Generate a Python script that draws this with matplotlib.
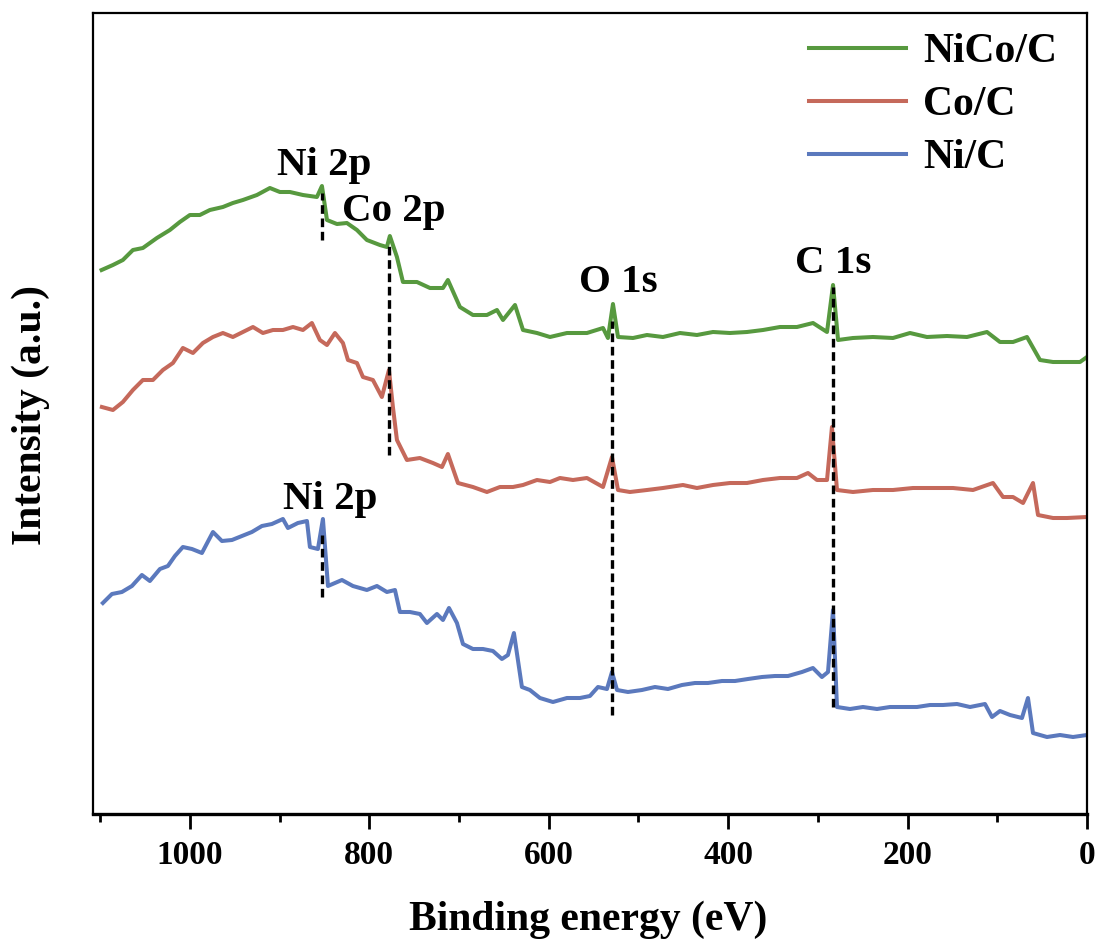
import matplotlib
matplotlib.use("Agg")
import matplotlib.pyplot as plt
from matplotlib.lines import Line2D

plt.rcParams['font.family'] = ['Liberation Serif', 'DejaVu Serif']
plt.rcParams['font.weight'] = 'bold'

# ---- XPS survey spectra (binding energy in eV, intensity in a.u., offset stacked) ----
nico_be = [1098.4, 1085.8, 1074.7, 1063.5, 1052.4, 1036.8, 1022.3, 1011.2, 1000.0, 988.9,
           977.7, 963.2, 952.1, 940.9, 925.3, 910.8, 899.7, 888.5, 874.0, 858.4,
           852.8, 847.2, 836.1, 825.0, 813.8, 802.7, 788.2, 780.4, 777.1, 769.2,
           762.5, 746.9, 732.4, 717.9, 712.4, 699.0, 684.5, 668.9, 657.7, 651.0,
           637.6, 628.7, 613.1, 598.6, 579.7, 557.4, 539.5, 534.0, 528.4, 522.8,
           506.1, 490.5, 472.7, 453.7, 434.8, 416.9, 398.0, 379.0, 361.2, 342.2,
           323.3, 305.4, 289.8, 283.1, 277.5, 260.9, 238.6, 216.3, 197.3, 178.4,
           156.1, 133.8, 111.5, 97.0, 82.5, 66.9, 52.4, 37.9, 22.3, 7.8, 0.0]
nico_int = [544, 549, 554, 564, 566, 576, 584, 592, 599, 599,
            604, 607, 611, 614, 619, 626, 622, 622, 619, 617,
            628, 594, 590, 591, 584, 574, 569, 567, 578, 557,
            532, 532, 526, 526, 534, 507, 499, 499, 504, 494,
            509, 484, 481, 477, 481, 481, 486, 476, 510, 477,
            476, 479, 477, 481, 479, 482, 481, 482, 484, 487,
            487, 491, 482, 529, 474, 476, 477, 476, 481, 477,
            478, 477, 482, 472, 472, 477, 454, 452, 452, 452, 457]

co_be = [1098.1, 1085.8, 1074.7, 1063.5, 1052.4, 1041.2, 1030.1, 1018.9, 1007.8, 996.6,
         985.5, 974.3, 963.2, 952.1, 940.9, 929.7, 918.6, 907.4, 896.3, 885.1,
         874.0, 864.0, 855.1, 847.2, 838.3, 829.4, 823.8, 813.8, 807.1, 796.0,
         786.0, 778.1, 773.7, 769.2, 758.1, 743.6, 729.1, 719.0, 712.4, 701.2,
         684.5, 668.9, 654.4, 639.9, 628.7, 613.1, 598.6, 587.5, 573.0, 557.4,
         539.5, 529.5, 522.8, 509.5, 490.5, 472.7, 450.4, 434.8, 416.9, 398.0,
         379.0, 361.2, 342.2, 323.3, 311.0, 301.0, 289.8, 284.3, 278.7, 260.9,
         238.6, 216.3, 194.0, 171.7, 149.4, 127.1, 104.8, 93.6, 82.5, 71.3,
         60.2, 54.6, 37.9, 22.3, 0.0]
co_int = [407, 404, 412, 424, 434, 434, 444, 451, 466, 461,
          471, 477, 481, 477, 482, 487, 481, 484, 484, 487,
          484, 491, 474, 469, 481, 471, 454, 451, 437, 434,
          417, 444, 407, 374, 354, 356, 351, 347, 360, 331,
          327, 322, 327, 327, 329, 334, 332, 336, 334, 336,
          327, 357, 324, 322, 324, 326, 329, 326, 329, 331,
          331, 334, 336, 336, 341, 334, 334, 387, 324, 322,
          324, 324, 326, 326, 326, 324, 331, 317, 317, 311,
          331, 299, 296, 296, 297]

ni_be = [1097.0, 1086.9, 1075.8, 1064.6, 1053.5, 1044.6, 1033.4, 1024.5, 1016.7, 1007.8,
         997.7, 986.6, 974.3, 964.3, 953.1, 942.0, 930.9, 919.7, 908.6, 896.3,
         890.7, 879.6, 869.5, 866.2, 857.3, 851.7, 846.1, 838.3, 830.5, 818.3,
         802.7, 791.5, 780.4, 771.4, 765.9, 754.7, 743.6, 735.8, 724.6, 717.9,
         711.2, 702.3, 695.6, 684.5, 673.3, 662.2, 652.2, 645.5, 638.8, 629.9,
         621.0, 609.8, 595.3, 579.7, 565.2, 554.1, 545.1, 535.1, 529.5, 523.9,
         511.7, 496.1, 481.6, 467.1, 451.5, 437.0, 422.5, 406.9, 392.4, 377.9,
         362.3, 347.8, 333.3, 317.7, 305.5, 295.5, 288.7, 283.1, 278.7, 264.2,
         249.7, 234.1, 219.6, 205.1, 189.5, 175.0, 160.5, 144.9, 130.4, 113.7,
         105.9, 97.0, 85.8, 72.5, 65.8, 60.2, 44.6, 30.1, 15.6, 0.0]
ni_int = [211, 220, 222, 228, 239, 233, 245, 248, 258, 267,
          265, 261, 282, 273, 274, 278, 282, 288, 290, 295,
          286, 291, 293, 267, 265, 295, 228, 231, 234, 228,
          224, 228, 222, 224, 202, 202, 200, 191, 200, 194,
          206, 191, 170, 165, 165, 163, 155, 159, 181, 127,
          124, 116, 112, 116, 116, 118, 127, 125, 142, 124,
          122, 124, 127, 125, 129, 131, 131, 133, 133, 135,
          137, 138, 138, 142, 146, 137, 142, 204, 107, 105,
          107, 105, 107, 107, 107, 109, 109, 110, 107, 110,
          97, 103, 99, 96, 116, 81, 77, 79, 77, 79]

series_names = ['NiCo/C', 'Co/C', 'Ni/C']
series_colors = ['#57993F', '#C5695B', '#5B79BD']

# ---- peak assignments: label, marker energy, dashed-line span, label anchor ----
peak_labels = ['Ni 2p', 'Co 2p', 'O 1s', 'C 1s', 'Ni 2p']
peak_be = [853.0, 778.0, 530.0, 283.5, 852.5]
line_lo = [574, 359, 99, 107, 217]
line_hi = [621, 569, 493, 527, 283]
label_be = [850.6, 772.6, 522.8, 282.6, 843.9]
label_int = [639, 593, 522, 541, 305]

W, H = 1101, 949
fig = plt.figure(figsize=(W / 100, H / 100), dpi=100)
ax = fig.add_axes([93 / W, 1 - 814 / H, (1087 - 93) / W, (814 - 13) / H])

lw = 2.9
for be, inten, name, col in zip([nico_be, co_be, ni_be], [nico_int, co_int, ni_int],
                                series_names, series_colors):
    ax.plot(be, inten, color=col, lw=lw, label=name, solid_joinstyle='round')

for lab, pb, lo, hi, lx, ly in zip(peak_labels, peak_be, line_lo, line_hi, label_be, label_int):
    ax.plot([pb, pb], [lo, hi], color='black', lw=2.4, linestyle=(0, (2.6, 1.4)),
            dash_capstyle='butt')
    ax.text(lx, ly, lab, ha='center', va='baseline', fontsize=29.5, fontweight='bold')

ax.set_xlim(1108, 0)
ax.set_ylim(0, 801)
ax.set_xticks([1000, 800, 600, 400, 200, 0])
ax.set_xticks([1100, 900, 700, 500, 300, 100], minor=True)
ax.set_yticks([])
ax.tick_params(axis='x', which='major', direction='out', length=11, width=2,
               labelsize=24, pad=8)
ax.tick_params(axis='x', which='minor', direction='out', length=6, width=2)
for lbl in ax.get_xticklabels():
    lbl.set_fontweight('bold')
for side in ['left', 'top', 'right']:
    ax.spines[side].set_linewidth(1.6)
ax.spines['bottom'].set_linewidth(2.4)

fig.text(31 / W, 1 - 415 / H, 'Intensity (a.u.)', rotation=90, ha='center', va='center',
         fontsize=30, fontweight='bold')
fig.text(588 / W, 1 - 920 / H, 'Binding energy (eV)', ha='center', va='center',
         fontsize=30, fontweight='bold')

handles = [Line2D([], [], color=c, lw=lw) for c in series_colors]
leg = ax.legend(handles, series_names, loc='upper left',
                bbox_to_anchor=(809 / W, 1 - 33 / H), bbox_transform=fig.transFigure,
                frameon=False, fontsize=30, handlelength=2.32, handletextpad=0.42,
                labelspacing=0.36, borderpad=0, borderaxespad=0)
for t in leg.get_texts():
    t.set_fontweight('bold')

fig.savefig('out.png', dpi=100)
